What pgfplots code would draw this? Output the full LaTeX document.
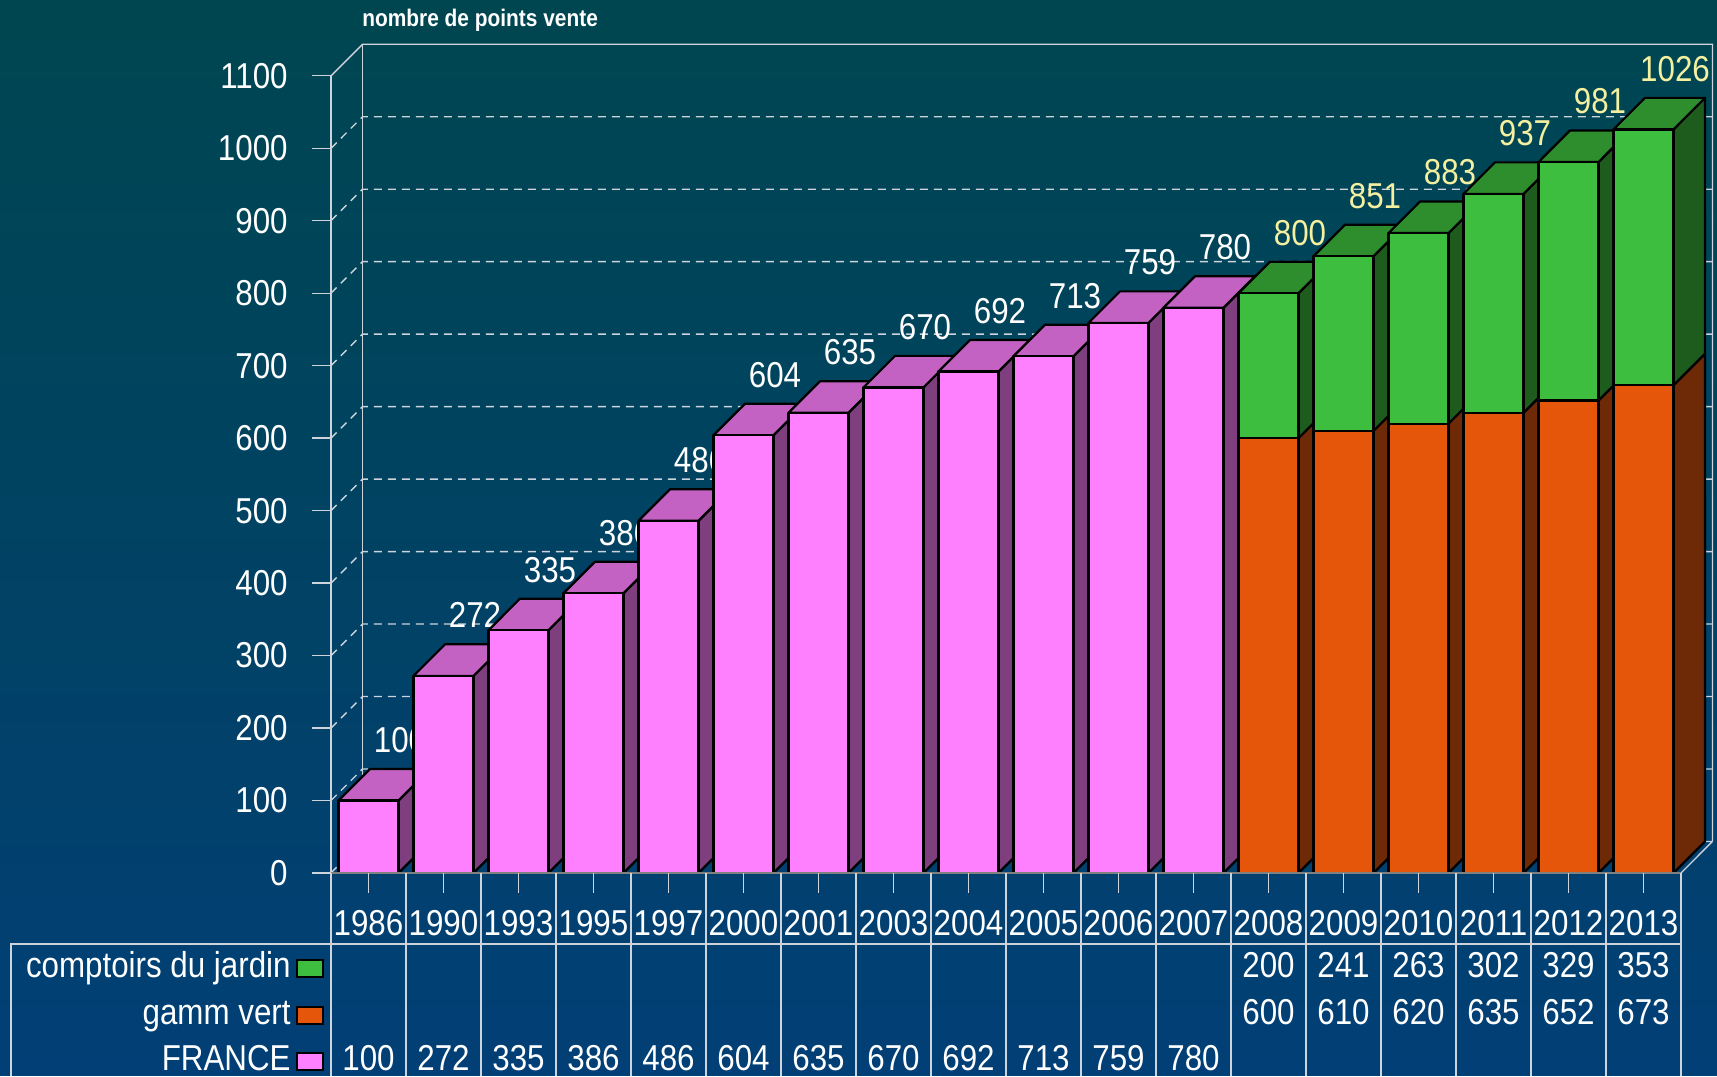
\documentclass[border=0pt]{standalone}
\usepackage{pgfplots}
\pgfplotsset{compat=1.18}
\usepackage{pgfplotstable}
\usepackage{graphicx}
\usepackage{fontspec}
\setmainfont{Liberation Sans}

\definecolor{bgtop}{RGB}{0,70,80}
\definecolor{bgbot}{RGB}{1,63,118}
\definecolor{pinkF}{RGB}{255,128,255}
\definecolor{pinkT}{RGB}{196,98,196}
\definecolor{pinkS}{RGB}{127,63,127}
\definecolor{orF}{RGB}{230,86,10}
\definecolor{orS}{RGB}{110,42,6}
\definecolor{grF}{RGB}{62,190,62}
\definecolor{grT}{RGB}{46,142,46}
\definecolor{grS}{RGB}{30,92,30}
\definecolor{gridc}{RGB}{205,212,220}
\definecolor{ylab}{RGB}{245,240,160}

\tikzset{
  lab/.style={font=\fontsize{18}{20}\selectfont, text=white, inner sep=0pt},
  gridD/.style={draw=gridc, line width=0.7pt, dash pattern=on 4pt off 3pt},
  gridS/.style={draw=gridc, line width=0.7pt},
  face/.style={draw=black, line width=1.1pt, line join=round},
}

\pgfplotstableread{
i year france gamm cj total
0  1986 100 nan nan nan
1  1990 272 nan nan nan
2  1993 335 nan nan nan
3  1995 386 nan nan nan
4  1997 486 nan nan nan
5  2000 604 nan nan nan
6  2001 635 nan nan nan
7  2003 670 nan nan nan
8  2004 692 nan nan nan
9  2005 713 nan nan nan
10 2006 759 nan nan nan
11 2007 780 nan nan nan
12 2008 nan 600 200 800
13 2009 nan 610 241 851
14 2010 nan 620 263 883
15 2011 nan 635 302 937
16 2012 nan 652 329 981
17 2013 nan 673 353 1026
}\data

\def\dX{0.42}
\def\dY{43.5}
\newcommand\T[1]{\scalebox{0.87}[1]{#1}}
\newcommand\sq[1]{\textcolor{black}{\rule{14pt}{9.5pt}}\hspace{-13pt}\raisebox{1pt}{\textcolor{#1}{\rule{12pt}{7.5pt}}}\hspace{1pt}}

\begin{document}
\begin{tikzpicture}
\begin{axis}[
  x=37.5pt, y=0.36235pt,
  xmin=-4.9133, xmax=17.98, ymin=-280.12, ymax=1204.6,
  axis line style={draw=none}, ticks=none,
  axis background/.style={top color=bgtop, bottom color=bgbot},
  clip=false,
]
% back wall and grid
\pgfplotsinvokeforeach{0,100,...,1000}{
  \pgfmathsetmacro\gy{#1+\dY}
  \edef\temp{\noexpand\draw[gridD] (axis cs:-0.5,#1) -- (axis cs:-0.08,\gy) -- (axis cs:17.92,\gy);}
  \temp
}
\draw[gridS] (axis cs:-0.5,1100) -- (axis cs:-0.08,1143.5) -- (axis cs:17.92,1143.5) -- (axis cs:17.92,43.5);
\draw[gridS] (axis cs:-0.08,43.5) -- (axis cs:-0.08,1143.5);
\draw[gridS] (axis cs:17.5,0) -- (axis cs:17.92,43.5);
% y axis
\draw[gridS] (axis cs:-0.5,0) -- (axis cs:-0.5,1100);
\pgfplotsinvokeforeach{0,100,...,1100}{
  \draw[gridS] (axis cs:-0.753,#1) -- (axis cs:-0.5,#1);
  \node[lab, anchor=east] at (axis cs:-1.073,#1) {\T{#1}};
}
% title
\node[font=\fontsize{12}{14}\selectfont\bfseries, text=white, anchor=west, inner sep=0pt] at (axis cs:-0.087,1177) {\T{nombre de points vente}};
% value labels (drawn behind bars)
\pgfplotsinvokeforeach{0,...,11}{
  \pgfplotstablegetelem{#1}{france}\of\data
  \let\myH\pgfplotsretval
  \pgfmathsetmacro\lx{#1+\dX}
  \pgfmathsetmacro\ly{\myH+\dY+40}
  \edef\temp{\noexpand\node[lab] at (axis cs:\lx,\ly) {\noexpand\T{\myH}};}
  \temp
}
\pgfplotsinvokeforeach{12,...,17}{
  \pgfplotstablegetelem{#1}{total}\of\data
  \let\myH\pgfplotsretval
  \pgfmathsetmacro\lx{#1+\dX}
  \pgfmathsetmacro\ly{\myH+\dY+40}
  \edef\temp{\noexpand\node[lab, text=ylab] at (axis cs:\lx,\ly) {\noexpand\T{\myH}};}
  \temp
}
% side faces
\pgfplotsinvokeforeach{0,...,11}{
  \pgfplotstablegetelem{#1}{france}\of\data
  \let\myH\pgfplotsretval
  \pgfmathsetmacro\xa{#1+0.4}
  \pgfmathsetmacro\xb{#1+0.4+\dX}
  \pgfmathsetmacro\hb{\myH+\dY}
  \edef\temp{\noexpand\addplot[face, fill=pinkS] coordinates {(\xa,0) (\xb,\dY) (\xb,\hb) (\xa,\myH)} -- cycle;}
  \temp
}
\pgfplotsinvokeforeach{12,...,17}{
  \pgfplotstablegetelem{#1}{gamm}\of\data
  \let\myG\pgfplotsretval
  \pgfplotstablegetelem{#1}{total}\of\data
  \let\myH\pgfplotsretval
  \pgfmathsetmacro\xa{#1+0.4}
  \pgfmathsetmacro\xb{#1+0.4+\dX}
  \pgfmathsetmacro\gb{\myG+\dY}
  \pgfmathsetmacro\hb{\myH+\dY}
  \edef\temp{\noexpand\addplot[face, fill=orS] coordinates {(\xa,0) (\xb,\dY) (\xb,\gb) (\xa,\myG)} -- cycle;
    \noexpand\addplot[face, fill=grS] coordinates {(\xa,\myG) (\xb,\gb) (\xb,\hb) (\xa,\myH)} -- cycle;}
  \temp
}
% top faces
\pgfplotsinvokeforeach{0,...,11}{
  \pgfplotstablegetelem{#1}{france}\of\data
  \let\myH\pgfplotsretval
  \pgfmathsetmacro\xl{#1-0.4}
  \pgfmathsetmacro\xlb{#1-0.4+\dX}
  \pgfmathsetmacro\xa{#1+0.4}
  \pgfmathsetmacro\xb{#1+0.4+\dX}
  \pgfmathsetmacro\hb{\myH+\dY}
  \edef\temp{\noexpand\addplot[face, fill=pinkT] coordinates {(\xl,\myH) (\xa,\myH) (\xb,\hb) (\xlb,\hb)} -- cycle;}
  \temp
}
\pgfplotsinvokeforeach{12,...,17}{
  \pgfplotstablegetelem{#1}{total}\of\data
  \let\myH\pgfplotsretval
  \pgfmathsetmacro\xl{#1-0.4}
  \pgfmathsetmacro\xlb{#1-0.4+\dX}
  \pgfmathsetmacro\xa{#1+0.4}
  \pgfmathsetmacro\xb{#1+0.4+\dX}
  \pgfmathsetmacro\hb{\myH+\dY}
  \edef\temp{\noexpand\addplot[face, fill=grT] coordinates {(\xl,\myH) (\xa,\myH) (\xb,\hb) (\xlb,\hb)} -- cycle;}
  \temp
}
% front faces
\addplot[ybar, bar width=0.8, bar shift=0pt, face, fill=pinkF] table[x=i, y=france] {\data};
\addplot[ybar, bar width=0.8, bar shift=0pt, face, fill=grF] table[x=i, y=total] {\data};
\addplot[ybar, bar width=0.8, bar shift=0pt, face, fill=orF] table[x=i, y=gamm] {\data};
% floor line
\draw[draw=gray, line width=1pt] (axis cs:-0.5,0) -- (axis cs:17.5,0);
% data table lines
\pgfplotsinvokeforeach{0,...,18}{
  \draw[gridS] (axis cs:#1-0.5,0) -- (axis cs:#1-0.5,-280.12);
}
\pgfplotsinvokeforeach{0,...,17}{
  \draw[gridS] (axis cs:#1,0) -- (axis cs:#1,-27.6);
}
\draw[gridS] (axis cs:-4.767,-280.12) -- (axis cs:-4.767,-98) -- (axis cs:17.5,-98);
% years
\pgfplotsinvokeforeach{0,...,17}{
  \pgfplotstablegetelem{#1}{year}\of\data
  \edef\temp{\noexpand\node[lab, anchor=base] at (axis cs:#1,-86.9) {\noexpand\T{\pgfplotsretval}};}
  \temp
}
% rows
\pgfplotsinvokeforeach{12,...,17}{
  \pgfplotstablegetelem{#1}{cj}\of\data
  \edef\temp{\noexpand\node[lab, anchor=base] at (axis cs:#1,-144.9) {\noexpand\T{\pgfplotsretval}};}
  \temp
  \pgfplotstablegetelem{#1}{gamm}\of\data
  \edef\temp{\noexpand\node[lab, anchor=base] at (axis cs:#1,-209.7) {\noexpand\T{\pgfplotsretval}};}
  \temp
}
\pgfplotsinvokeforeach{0,...,11}{
  \pgfplotstablegetelem{#1}{france}\of\data
  \edef\temp{\noexpand\node[lab, anchor=base] at (axis cs:#1,-273.2) {\noexpand\T{\pgfplotsretval}};}
  \temp
}
\node[lab, anchor=base east] at (axis cs:-0.62,-144.9) {\T{comptoirs du jardin}\hspace{2.5pt}\sq{grF}};
\node[lab, anchor=base east] at (axis cs:-0.62,-209.7) {\T{gamm vert}\hspace{2.5pt}\sq{orF}};
\node[lab, anchor=base east] at (axis cs:-0.62,-273.2) {\T{FRANCE}\hspace{2.5pt}\sq{pinkF}};
\end{axis}
\end{tikzpicture}
\end{document}
